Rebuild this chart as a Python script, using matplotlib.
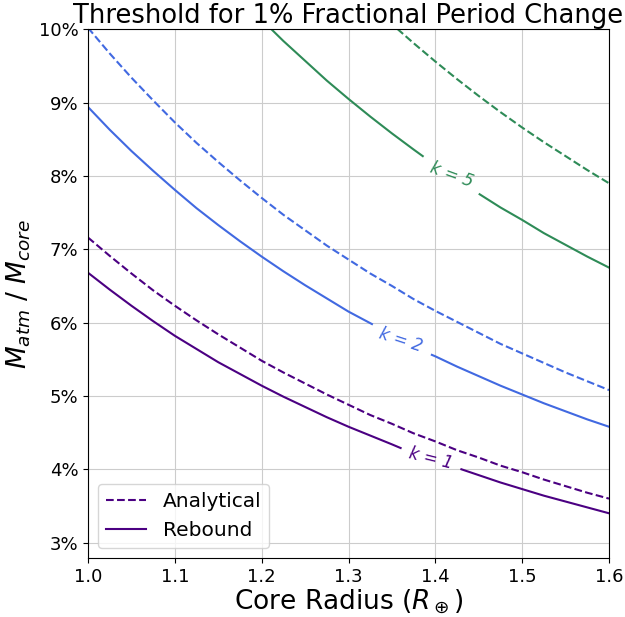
import numpy as np
import matplotlib
matplotlib.use("Agg")
import matplotlib.pyplot as plt
from matplotlib.ticker import PercentFormatter

# core radius grid (Earth radii) and threshold atmosphere fraction (%)
r = [1.0, 1.025, 1.05, 1.075, 1.1, 1.125, 1.15, 1.175, 1.2, 1.225, 1.25, 1.275, 1.3,
     1.325, 1.35, 1.375, 1.4, 1.425, 1.45, 1.475, 1.5, 1.525, 1.55, 1.575, 1.6]

# k = 1
k1_analytical = [7.16, 6.91, 6.67, 6.44, 6.23, 6.03, 5.84, 5.66, 5.48, 5.32, 5.17, 5.02, 4.88,
                 4.74, 4.62, 4.49, 4.38, 4.26, 4.16, 4.05, 3.96, 3.86, 3.77, 3.68, 3.60]
k1_rebound_r = [1.0, 1.025, 1.05, 1.075, 1.1, 1.125, 1.15, 1.175, 1.2, 1.225, 1.25, 1.275, 1.3,
                1.325, 1.35, 1.36, 1.40, 1.43, 1.45, 1.475, 1.5, 1.525, 1.55, 1.575, 1.6]
k1_rebound = [6.68, 6.45, 6.23, 6.02, 5.82, 5.64, 5.46, 5.30, 5.14, 4.99, 4.85, 4.71, 4.58,
              4.46, 4.34, 4.29, np.nan, 4.00, 3.92, 3.82, 3.73, 3.64, 3.56, 3.48, 3.40]

# k = 2
k2_analytical = [10.02, 9.67, 9.34, 9.03, 8.73, 8.45, 8.19, 7.94, 7.70, 7.47, 7.26, 7.05, 6.86,
                 6.67, 6.50, 6.32, 6.16, 6.01, 5.86, 5.71, 5.58, 5.45, 5.32, 5.20, 5.08]
k2_rebound_r = [1.0, 1.025, 1.05, 1.075, 1.1, 1.125, 1.15, 1.175, 1.2, 1.225, 1.25, 1.275, 1.3,
                1.327, 1.36, 1.396, 1.4, 1.425, 1.45, 1.475, 1.5, 1.525, 1.55, 1.575, 1.6]
k2_rebound = [8.94, 8.63, 8.34, 8.07, 7.81, 7.56, 7.33, 7.11, 6.90, 6.70, 6.51, 6.33, 6.15,
              5.98, np.nan, 5.56, 5.54, 5.40, 5.27, 5.14, 5.02, 4.90, 4.79, 4.68, 4.58]

# k = 5
k5_analytical = [15.47, 14.93, 14.43, 13.95, 13.50, 13.07, 12.67, 12.28, 11.92, 11.57, 11.24,
                 10.93, 10.63, 10.34, 10.07, 9.81, 9.56, 9.32, 9.09, 8.87, 8.66, 8.46, 8.27,
                 8.08, 7.90]
k5_rebound_r = [1.0, 1.025, 1.05, 1.075, 1.1, 1.125, 1.15, 1.175, 1.2, 1.225, 1.25, 1.275, 1.3,
                1.325, 1.35, 1.375, 1.3855, 1.42, 1.451, 1.475, 1.5, 1.525, 1.55, 1.575, 1.6]
k5_rebound = [13.10, 12.66, 12.24, 11.84, 11.46, 11.10, 10.76, 10.44, 10.13, 9.84, 9.57, 9.30,
              9.05, 8.81, 8.58, 8.36, 8.27, np.nan, 7.75, 7.57, 7.40, 7.22, 7.06, 6.90, 6.75]

c1, c2, c5 = "indigo", "royalblue", "seagreen"

fig = plt.figure(figsize=(6.25, 6.17), dpi=100)
ax = fig.add_axes([0.1408, 0.0956, 0.8336, 0.857])

ax.plot(r, k1_analytical, "--", color=c1, lw=1.5, label="Analytical")
ax.plot(k1_rebound_r, k1_rebound, "-", color=c1, lw=1.5, label="Rebound")
ax.plot(r, k2_analytical, "--", color=c2, lw=1.5)
ax.plot(k2_rebound_r, k2_rebound, "-", color=c2, lw=1.5)
ax.plot(r, k5_analytical, "--", color=c5, lw=1.5)
ax.plot(k5_rebound_r, k5_rebound, "-", color=c5, lw=1.5)

# inline labels in the gaps of the solid curves
ax.text(1.3954, 4.15, "k = 1", color=c1, fontsize=12, fontstyle="italic",
        rotation=-14, ha="center", va="center")
ax.text(1.360, 5.76, "k = 2", color=c2, fontsize=12, fontstyle="italic",
        rotation=-18, ha="center", va="center")
ax.text(1.4188, 8.02, "k = 5", color=c5, fontsize=12, fontstyle="italic",
        rotation=-20, ha="center", va="center")

ax.set_xlim(1.0, 1.6)
ax.set_ylim(2.79, 10.0)
ax.set_yticks([3, 4, 5, 6, 7, 8, 9, 10])
ax.yaxis.set_major_formatter(PercentFormatter(xmax=100, decimals=0))
ax.tick_params(labelsize=13)
ax.grid(True, color="0.8", lw=0.8)

ax.set_xlabel(r"Core Radius ($R_\oplus$)", fontsize=19, labelpad=1)
ax.set_ylabel(r"$M_{atm}$ / $M_{core}$", fontsize=19)
ax.set_title("Threshold for 1% Fractional Period Change", fontsize=18.5, pad=3)
ax.legend(loc="lower left", fontsize=14.5)

fig.savefig("out.png", dpi=100)
